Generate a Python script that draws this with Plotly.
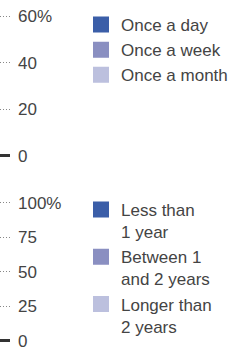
import plotly.graph_objects as go

# The bars of this chart lie outside the cropped picture, so their values
# cannot be read; they are kept as missing values (None).
# Top panel: frequency
freq_categories = ["All"]
freq_series = ["Once a day", "Once a week", "Once a month"]
freq_values = {"Once a day": [None], "Once a week": [None], "Once a month": [None]}
freq_tickvals = [0, 20, 40, 60]
freq_ticktext = ["0", "20", "40", "60%"]

# Bottom panel: duration
dur_categories = ["All"]
dur_series = ["Less than<br>1 year", "Between 1<br>and 2 years", "Longer than<br>2 years"]
dur_values = {s: [None] for s in dur_series}
dur_tickvals = [0, 25, 50, 75, 100]
dur_ticktext = ["0", "25", "50", "75", "100%"]

colors = ["#3b5ea8", "#8a8fc1", "#bcc0de"]
FONT = "Liberation Sans"
TXT = "#444444"

fig = go.Figure()
for s, c in zip(freq_series, colors):
    fig.add_trace(go.Bar(x=freq_categories, y=freq_values[s], name=s,
                         marker=dict(color=c, line=dict(color=c, width=4)),
                         xaxis="x", yaxis="y", legend="legend"))
for s, c in zip(dur_series, colors):
    fig.add_trace(go.Bar(x=dur_categories, y=dur_values[s], name=s,
                         marker=dict(color=c, line=dict(color=c, width=4)),
                         xaxis="x2", yaxis="y2", legend="legend2"))

W, H = 243, 347
xdom = [0, 10 / W]
yaxis_common = dict(side="right", ticks="", showline=False, automargin=False,
                    showgrid=True, gridcolor="#888888", gridwidth=1, griddash="1px,2px",
                    zeroline=True, zerolinecolor="#333333", zerolinewidth=3,
                    tickfont=dict(family=FONT, size=17, color=TXT),
                    ticklabelstandoff=7, ticklabeloverflow="allow", fixedrange=True)

legend_common = dict(xanchor="left", yanchor="top", traceorder="normal",
                     font=dict(family=FONT, size=17, color=TXT),
                     bgcolor="rgba(0,0,0,0)", valign="top", tracegroupgap=0)

fig.update_layout(
    width=W, height=H, margin=dict(l=0, r=0, t=0, b=0),
    paper_bgcolor="white", plot_bgcolor="white",
    barmode="stack", showlegend=True,
    xaxis=dict(domain=xdom, visible=False, anchor="y", automargin=False),
    xaxis2=dict(domain=xdom, visible=False, anchor="y2", automargin=False),
    yaxis=dict(domain=[0.5370, 0.9673], range=[-2, 62], tickvals=freq_tickvals,
               ticktext=freq_ticktext, anchor="x", **yaxis_common),
    yaxis2=dict(domain=[0.00536, 0.42692], range=[-3, 103], tickvals=dur_tickvals,
                ticktext=dur_ticktext, anchor="x2", **yaxis_common),
    legend=dict(x=81 / W, y=1 - 7 / H, **legend_common),
    legend2=dict(x=81 / W, y=1 - 192 / H, **legend_common),
)

fig.write_html("out.html", config={"displayModeBar": False},
               post_script="document.body.style.margin='0px';")
